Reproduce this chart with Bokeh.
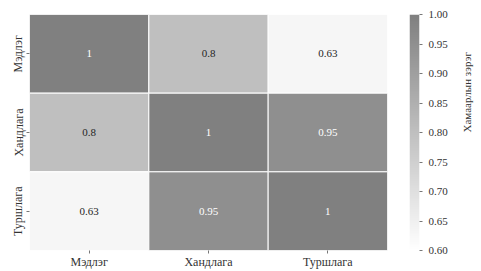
import math
import numpy as np
from bokeh.plotting import figure
from bokeh.layouts import row
from bokeh.models import (ColumnDataSource, LinearColorMapper, FixedTicker,
                          PrintfTickFormatter, FactorRange, Range1d, LinearAxis)
from bokeh.core.properties import value
from bokeh.embed import file_html
from bokeh.resources import INLINE

labels = ["Мэдлэг", "Хандлага", "Туршлага"]
corr = [
    [1.0, 0.8, 0.63],
    [0.8, 1.0, 0.95],
    [0.63, 0.95, 1.0],
]
cell_text = [
    ["1", "0.8", "0.63"],
    ["0.8", "1", "0.95"],
    ["0.63", "0.95", "1"],
]
cbar_ticks = [0.60, 0.65, 0.70, 0.75, 0.80, 0.85, 0.90, 0.95, 1.00]
cbar_title = "Хамаарлын зэрэг"
vmin, vmax = 0.6, 1.0

# grey palette from white (low) to mid grey (high)
palette = []
for i in range(256):
    g = int(round(255 - 127 * i / 255))
    palette.append("#%02x%02x%02x" % (g, g, g))

xs, ys, vs, ts, tcol = [], [], [], [], []
for r, rl in enumerate(labels):
    for c, cl in enumerate(labels):
        xs.append(cl)
        ys.append(rl)
        vs.append(corr[r][c])
        ts.append(cell_text[r][c])
        t = (corr[r][c] - vmin) / (vmax - vmin)
        g = 255 - 127 * t
        tcol.append("#ffffff" if g < 160 else "#262626")

src = ColumnDataSource(dict(x=xs, y=ys, v=vs, t=ts, tc=tcol))
mapper = LinearColorMapper(palette=palette, low=vmin, high=vmax)

FONT = "Liberation Serif"

p = figure(width=400, height=271, output_backend="svg", toolbar_location=None,
           x_range=FactorRange(*labels), y_range=FactorRange(*reversed(labels)),
           min_border_left=29, min_border_bottom=21, min_border_top=13, min_border_right=13)
p.outline_line_color = None
p.grid.visible = False

p.rect(x="x", y="y", width=1, height=1, source=src,
       fill_color={"field": "v", "transform": mapper},
       line_color="white", line_width=1)
p.text(x="x", y="y", text="t", source=src, text_color="tc",
       text_align="center", text_baseline="middle",
       text_font=value(FONT), text_font_size="11px")

for ax in (p.xaxis[0], p.yaxis[0]):
    ax.axis_line_color = None
    ax.major_tick_in = 0
    ax.major_tick_out = 3
    ax.major_tick_line_color = "#777777"
    ax.major_label_text_font = FONT
    ax.major_label_text_font_size = "12px"
    ax.major_label_text_color = "#333333"
    ax.major_label_standoff = 1
p.yaxis[0].major_label_orientation = "vertical"

# colour bar as a narrow figure
cb = figure(width=81, height=271, output_backend="svg", toolbar_location=None,
            x_range=Range1d(0, 1), y_range=Range1d(vmin, vmax),
            min_border_left=9, min_border_right=61, min_border_top=14, min_border_bottom=20,
            x_axis_location=None, y_axis_location=None)
cb.outline_line_color = None
cb.grid.visible = False
grad = np.linspace(vmin, vmax, 256).reshape(256, 1)
cb.image(image=[grad], x=0, y=vmin, dw=1, dh=vmax - vmin, color_mapper=mapper)
rax = LinearAxis(ticker=FixedTicker(ticks=cbar_ticks),
                 formatter=PrintfTickFormatter(format="%.2f"),
                 axis_label=cbar_title)
rax.axis_line_color = None
rax.major_tick_in = 0
rax.major_tick_out = 3
rax.minor_tick_out = 0
rax.minor_tick_in = 0
rax.major_tick_line_color = "#777777"
rax.major_label_text_font = FONT
rax.major_label_text_font_size = "11px"
rax.major_label_text_color = "#333333"
rax.major_label_standoff = 6
rax.axis_label_text_font = FONT
rax.axis_label_text_font_size = "11px"
rax.axis_label_text_font_style = "normal"
rax.axis_label_text_color = "#333333"
rax.axis_label_standoff = 16
rax.axis_label_orientation = math.pi / 2
cb.add_layout(rax, "right")

layout = row(p, cb, spacing=0)
open("out.html", "w").write(file_html(layout, INLINE))
